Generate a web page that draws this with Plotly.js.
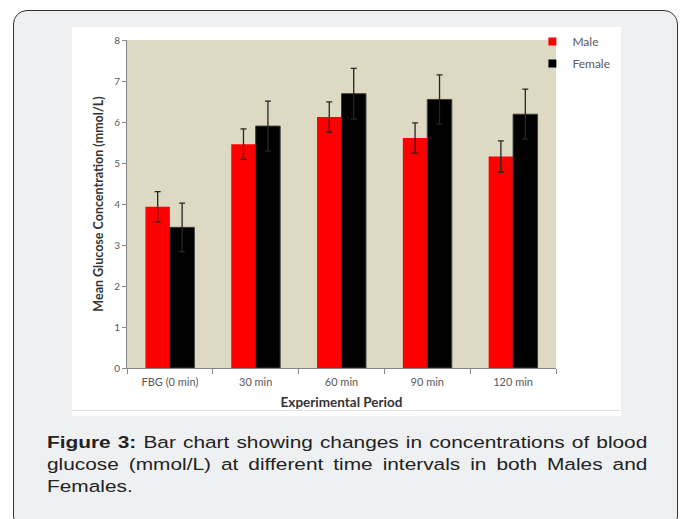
<!DOCTYPE html>
<html>
<head>
<meta charset="utf-8">
<script src="https://cdn.plot.ly/plotly-3.0.1.min.js"></script>
<style>
  html, body { margin:0; padding:0; background:#ffffff; width:685px; height:519px; overflow:hidden; }
  #box { position:absolute; left:13px; top:10px; width:665px; height:520px; background:#eff0f2;
         border:1.5px solid #333; border-radius:14px; box-sizing:border-box; }
  #panel { position:absolute; left:72px; top:27px; width:549px; height:389px; background:#ffffff; }
  #panelline { position:absolute; left:72px; top:410px; width:549px; height:1px; background:#e3e3e3; }
  #chart { position:absolute; left:0; top:0; width:685px; height:519px; }
  #caption { position:absolute; left:47px; top:432px; width:469px; transform:scaleX(1.28); transform-origin:0 0;
             font-family:"Liberation Sans", Arial, sans-serif; font-size:16.3px; line-height:21.9px; color:#222; }
  #caption .j { display:block; text-align:justify; text-align-last:justify; }
  #caption .l { display:block; text-align:left; }
</style>
</head>
<body>
<div id="box"></div>
<div id="panel"></div>
<div id="panelline"></div>
<div id="chart"></div>
<div id="caption">
  <span class="j"><b>Figure 3:</b> Bar chart showing changes in concentrations of blood</span>
  <span class="j">glucose (mmol/L) at different time intervals in both Males and</span>
  <span class="l">Females.</span>
</div>
<script>
const categories = ["FBG (0 min)", "30 min", "60 min", "90 min", "120 min"];
const maleMean   = [3.93, 5.46, 6.12, 5.61, 5.16];
const maleErr    = [0.37, 0.37, 0.37, 0.37, 0.38];
const femaleMean = [3.43, 5.90, 6.69, 6.55, 6.19];
const femaleErr  = [0.59, 0.61, 0.62, 0.60, 0.61];
const yTicks     = [0, 1, 2, 3, 4, 5, 6, 7, 8];

const textFont = "Lato, 'Open Sans', sans-serif";
const errStyle = { type: "data", visible: true, color: "#262626", thickness: 1.3, width: 3 };

const traces = [
  { type: "bar", name: "Male", x: categories, y: maleMean, showlegend: false,
    marker: { color: "#ff0000", line: { width: 0 } },
    error_y: Object.assign({ array: maleErr }, errStyle) },
  { type: "bar", name: "Female", x: categories, y: femaleMean, showlegend: false,
    marker: { color: "#000000", line: { width: 1, color: "#3c3c3c" } },
    error_y: Object.assign({ array: femaleErr }, errStyle) },
  { type: "scatter", mode: "markers", name: "Male", x: [null], y: [null], legendgroup: "m",
    marker: { symbol: "square", size: 8, color: "#ff0000" }, hoverinfo: "skip" },
  { type: "scatter", mode: "markers", name: "Female", x: [null], y: [null], legendgroup: "f",
    marker: { symbol: "square", size: 8, color: "#000000" }, hoverinfo: "skip" }
];

const layout = {
  width: 685, height: 519,
  margin: { l: 127, r: 129, t: 40, b: 151, pad: 0 },
  paper_bgcolor: "rgba(0,0,0,0)",
  plot_bgcolor: "#ddd9c3",
  barmode: "group", bargap: 0.43, bargroupgap: 0,
  font: { family: textFont, color: "#595959" },
  showlegend: true,
  legend: { x: 0.945, xanchor: "left", y: 1.04, yanchor: "top", bgcolor: "rgba(0,0,0,0)",
            font: { size: 12, color: "#595959", family: textFont }, tracegroupgap: 3 },
  xaxis: {
    type: "category", showline: true, linecolor: "#868686", linewidth: 1,
    ticks: "outside", tickson: "boundaries", ticklen: 5, tickcolor: "#868686",
    ticklabelstandoff: 4,
    tickfont: { size: 11, color: "#595959", family: textFont },
    showgrid: false, zeroline: false, fixedrange: true,
    title: { text: "<b>Experimental Period</b>", font: { size: 13.5, color: "#333333", family: textFont }, standoff: 10 }
  },
  yaxis: {
    range: [0, 8], tickvals: yTicks, showline: true, linecolor: "#868686", linewidth: 1,
    ticks: "outside", ticklen: 4, tickcolor: "#868686",
    tickfont: { size: 10, color: "#595959", family: textFont },
    showgrid: false, zeroline: false, fixedrange: true, automargin: true,
    title: { text: "<b>Mean Glucose Concentration (mmol/L)</b>", font: { size: 12.5, color: "#333333", family: textFont }, standoff: 7 }
  }
};

Plotly.newPlot("chart", traces, layout, { displayModeBar: false, staticPlot: true });
</script>
</body>
</html>
